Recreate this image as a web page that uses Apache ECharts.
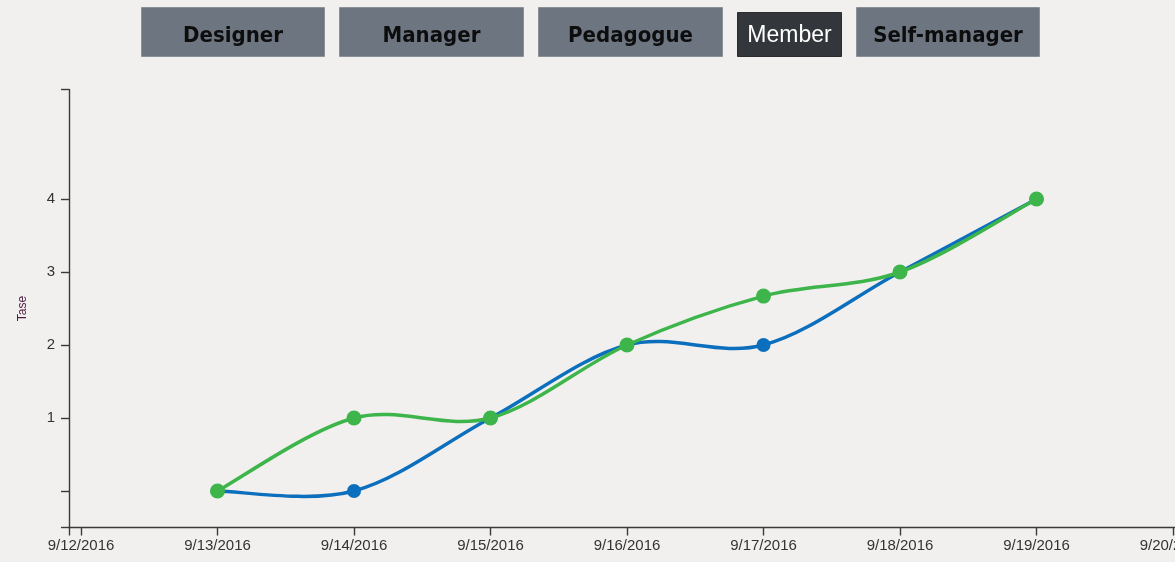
<!DOCTYPE html>
<html><head><meta charset="utf-8">
<script src="https://cdn.jsdelivr.net/npm/echarts@6/dist/echarts.min.js"></script>
<style>html,body{margin:0;padding:0;background:#f1f0ee;}#c{width:1175px;height:562px;}</style>
</head><body><div id="c"></div>
<script>
const dates = ['2016-09-13','2016-09-14','2016-09-15','2016-09-16','2016-09-17','2016-09-18','2016-09-19'];
const blueValues = [0, 0, 1, 2, 2, 3, 4];
const greenValues = [0, 1, 1, 2, 2.67, 3, 4];
const tickDates = ['2016-09-12','2016-09-13','2016-09-14','2016-09-15','2016-09-16','2016-09-17','2016-09-18','2016-09-19','2016-09-20'];
const yLabels = [1, 2, 3, 4];
const yTicks = [-0.5, 0, 1, 2, 3, 4, 5.5];
const buttons = ['Designer','Manager','Pedagogue','Member','Self-manager'];
const activeButton = 'Member';
const yName = 'Tase';

const ts = d => { const p = d.split('-').map(Number); return Date.UTC(p[0], p[1]-1, p[2]); };
const DAY = 86400000;
const fmt = v => { const d = new Date(v); return (d.getUTCMonth()+1) + '/' + d.getUTCDate() + '/' + d.getUTCFullYear(); };

const btnBoxes = [
  {x:141, y:7, w:183, h:49},
  {x:339, y:7, w:184, h:49},
  {x:538, y:7, w:184, h:49},
  {x:737, y:12, w:104, h:44},
  {x:856, y:7, w:183, h:49}
];
const graphic = [];
buttons.forEach((b, i) => {
  const box = btnBoxes[i];
  const active = b === activeButton;
  graphic.push({
    type: 'group', left: box.x, top: box.y,
    children: [
      {type:'rect', shape:{x:0,y:0,width:box.w,height:box.h}, style:{fill: active ? '#33363b' : '#6d7580', stroke: active ? '#2a2c30' : '#8a9098', lineWidth:1}},
      {type:'text', x: box.w/2, y: 35.5 - box.y, style:{text:b, fill: active ? '#ffffff' : '#0d0d0d',
        font: active ? 'normal 23px "Liberation Sans", Arial, sans-serif' : 'bold 22px "DejaVu Sans Condensed", "DejaVu Sans", sans-serif',
        align:'center', verticalAlign:'middle'}}
    ]
  });
});

const xMin = ts(tickDates[0]) - 0.0879*DAY;
const xMax = ts(tickDates[tickDates.length-1]) + 0.0879*DAY;

function cardinalPath(pts) {
  const k = 1/6;
  let d = 'M' + pts[0][0] + ' ' + pts[0][1];
  for (let i = 0; i < pts.length - 1; i++) {
    const p0 = pts[Math.max(i-1, 0)], p1 = pts[i], p2 = pts[i+1], p3 = pts[Math.min(i+2, pts.length-1)];
    const c1x = p1[0] + k*(p2[0]-p0[0]), c1y = p1[1] + k*(p2[1]-p0[1]);
    const c2x = p2[0] - k*(p3[0]-p1[0]), c2y = p2[1] - k*(p3[1]-p1[1]);
    d += ' C' + c1x + ' ' + c1y + ' ' + c2x + ' ' + c2y + ' ' + p2[0] + ' ' + p2[1];
  }
  return d;
}
function curveSeries(values, color, z) {
  const data = dates.map((d,i) => [ts(d), values[i]]);
  return {
    type: 'custom', data: data, z: z, silent: true,
    renderItem: (params, api) => {
      if (params.dataIndex !== 0) return null;
      const pts = data.map(p => api.coord(p));
      return {type: 'path', shape: {pathData: cardinalPath(pts)},
        style: {fill: 'none', stroke: color, lineWidth: 3.5, lineCap: 'round', lineJoin: 'round'}};
    }
  };
}
function dotSeries(values, color, size, z) {
  return {type: 'scatter', data: dates.map((d,i) => [ts(d), values[i]]), symbol: 'circle', symbolSize: size,
    itemStyle: {color: color, opacity: 1}, z: z};
}

const chart = echarts.init(document.getElementById('c'), null, {renderer:'canvas'});
chart.setOption({
  backgroundColor: '#f1f0ee',
  animation: false,
  graphic: graphic,
  grid: {left: 69, top: 89.5, height: 438, width: 1116, containLabel: false, outerBoundsMode: 'none'},
  xAxis: {
    type: 'value',
    min: xMin,
    max: xMax,
    axisLine: {show: true, onZero: false, lineStyle: {color: '#3a3a3a', width: 1.4}},
    axisTick: {show: true, length: 8, lineStyle: {color: '#3a3a3a', width: 1.4}, customValues: [xMin].concat(tickDates.map(ts))},
    axisLabel: {color: '#333', fontSize: 15, fontFamily: 'Liberation Sans, Arial, sans-serif', margin: 11, formatter: v => fmt(v), customValues: tickDates.map(ts)},
    splitLine: {show: false}
  },
  yAxis: {
    type: 'value', min: -0.5, max: 5.5,
    name: yName, nameLocation: 'middle', nameGap: 40, nameRotate: 90,
    nameTextStyle: {color: '#4e1a40', fontSize: 12, fontFamily: 'Liberation Sans, Arial, sans-serif'},
    axisLine: {show: true, onZero: false, lineStyle: {color: '#3a3a3a', width: 1.4}},
    axisTick: {show: true, length: 8, lineStyle: {color: '#3a3a3a', width: 1.4}, customValues: yTicks},
    axisLabel: {color: '#333', fontSize: 15, fontFamily: 'Liberation Sans, Arial, sans-serif', margin: 14, customValues: yLabels},
    splitLine: {show: false}
  },
  series: [
    curveSeries(blueValues, '#0b6fbe', 2),
    dotSeries(blueValues, '#0b6fbe', 14, 3),
    curveSeries(greenValues, '#3db54a', 4),
    dotSeries(greenValues, '#3db54a', 15, 5)
  ]
});
</script></body></html>
